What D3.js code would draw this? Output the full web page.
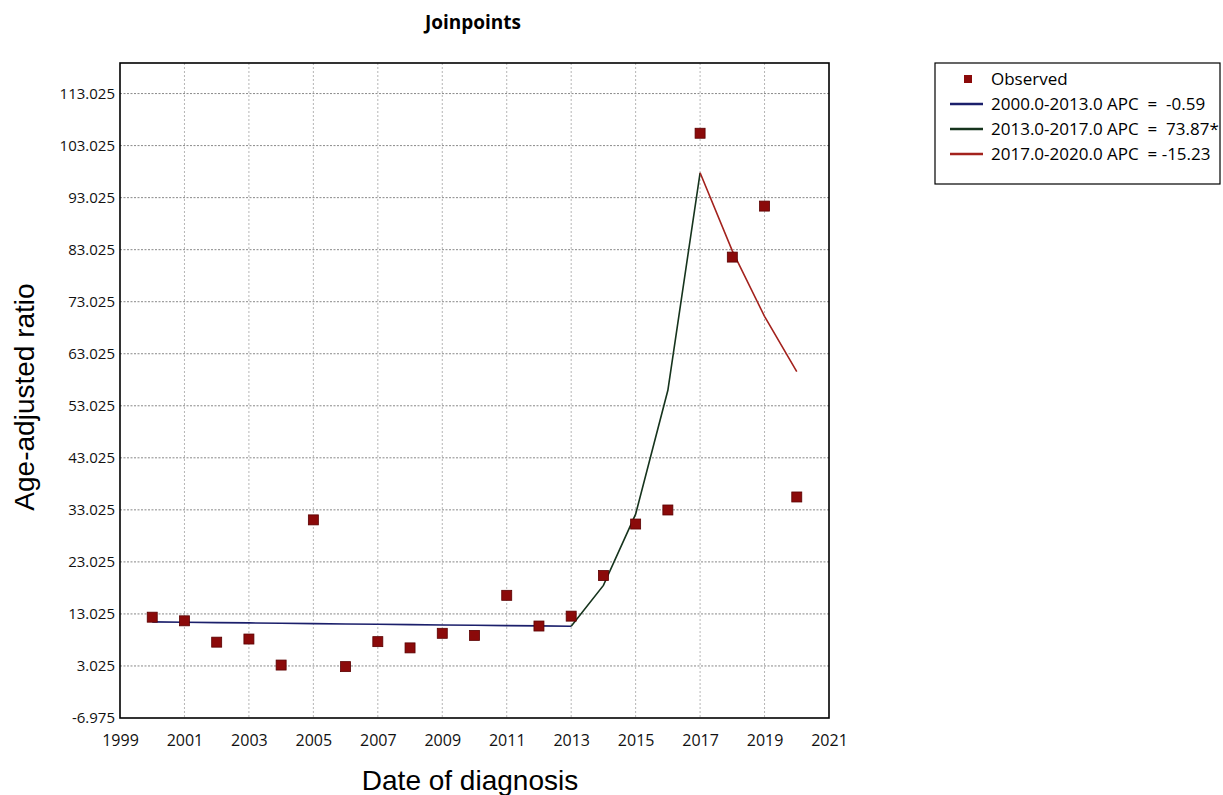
<!DOCTYPE html>
<html>
<head>
<meta charset="utf-8">
<script src="https://cdn.jsdelivr.net/npm/d3@7"></script>
<style>
  body { margin: 0; background: #fff; }
  svg { display: block; }
</style>
</head>
<body>
<script>
// observed values
const years = [2000, 2001, 2002, 2003, 2004, 2005, 2006, 2007, 2008, 2009, 2010,
  2011, 2012, 2013, 2014, 2015, 2016, 2017, 2018, 2019, 2020];
const observed = [12.4, 11.7, 7.6, 8.2, 3.2, 31.1, 2.9, 7.7, 6.5, 9.3, 8.9,
  16.6, 10.7, 12.6, 20.4, 30.3, 33.0, 105.4, 81.6, 91.4, 35.5];

// fitted joinpoint segments
const seg1Years = [2000, 2001, 2002, 2003, 2004, 2005, 2006, 2007, 2008, 2009, 2010, 2011, 2012, 2013];
const seg1Vals = [11.5, 11.43, 11.36, 11.3, 11.23, 11.17, 11.1, 11.04, 10.97, 10.91, 10.84, 10.78, 10.72, 10.65];
const seg2Years = [2013, 2014, 2015, 2016, 2017];
const seg2Vals = [10.65, 18.5, 32.2, 56.0, 97.8];
const seg3Years = [2017, 2018, 2019, 2020];
const seg3Vals = [97.8, 82.8, 70.2, 59.6];

const legendLabels = ['Observed', '2000.0-2013.0 APC  =  -0.59', '2013.0-2017.0 APC  =  73.87*', '2017.0-2020.0 APC  = -15.23'];
const xTicks = [1999, 2001, 2003, 2005, 2007, 2009, 2011, 2013, 2015, 2017, 2019, 2021];
const yTicks = [-6.975, 3.025, 13.025, 23.025, 33.025, 43.025, 53.025, 63.025, 73.025, 83.025, 93.025, 103.025, 113.025];

const W = 1223, H = 795;
const margin = { top: 63, left: 120, right: 394, bottom: 77 };
const width = W - margin.left - margin.right;
const height = H - margin.top - margin.bottom;

const colors = { obs: '#8b0a0a', s1: '#1b1f6b', s2: '#16341d', s3: '#a3221d' };
const uiFont = '"Open Sans", "DejaVu Sans", sans-serif';
const titleFont = '"Liberation Sans", Arial, sans-serif';

const svg = d3.select('body').append('svg')
  .attr('width', W)
  .attr('height', H);

const x = d3.scaleLinear().domain([1999, 2021]).range([0, width]);
const y = d3.scaleLinear().domain([-6.975, 118.9]).range([height, 0]);

const g = svg.append('g')
  .attr('transform', 'translate(' + margin.left + ',' + margin.top + ')');

// grid
g.append('g').selectAll('line')
  .data(xTicks.slice(1, -1))
  .join('line')
  .attr('x1', d => x(d)).attr('x2', d => x(d))
  .attr('y1', 0).attr('y2', height)
  .attr('stroke', '#b5b5b5')
  .attr('stroke-dasharray', '2,2');

g.append('g').selectAll('line')
  .data(yTicks.slice(1))
  .join('line')
  .attr('x1', 0).attr('x2', width)
  .attr('y1', d => y(d)).attr('y2', d => y(d))
  .attr('stroke', '#888')
  .attr('stroke-dasharray', '2,1.5');

// axes
const xAxis = g.append('g')
  .attr('transform', 'translate(0,' + height + ')')
  .call(d3.axisBottom(x).tickValues(xTicks).tickFormat(d3.format('d')).tickSize(0).tickPadding(17));
const yAxis = g.append('g')
  .call(d3.axisLeft(y).tickValues(yTicks).tickFormat(d => d.toFixed(3)).tickSize(0).tickPadding(5));
xAxis.selectAll('text').attr('font-size', 16);
yAxis.selectAll('text').attr('font-size', 15);
[xAxis, yAxis].forEach(a => {
  a.select('.domain').remove();
  a.selectAll('text')
    .attr('font-family', uiFont)
    .attr('fill', '#111');
});

g.append('rect')
  .attr('width', width).attr('height', height)
  .attr('fill', 'none').attr('stroke', '#000').attr('stroke-width', 1.6);

// fitted lines
const line = d3.line().x(d => x(d[0])).y(d => y(d[1]));
[[seg1Years, seg1Vals, colors.s1], [seg2Years, seg2Vals, colors.s2], [seg3Years, seg3Vals, colors.s3]].forEach(s => {
  g.append('path')
    .datum(d3.zip(s[0], s[1]))
    .attr('d', line)
    .attr('fill', 'none')
    .attr('stroke', s[2])
    .attr('stroke-width', 1.6);
});

// observed points
g.append('g').selectAll('rect')
  .data(d3.zip(years, observed))
  .join('rect')
  .attr('x', d => x(d[0]) - 5)
  .attr('y', d => y(d[1]) - 5)
  .attr('width', 10).attr('height', 10)
  .attr('fill', colors.obs)
  .attr('stroke', '#5a0000')
  .attr('stroke-width', 0.8);

// titles
svg.append('text')
  .attr('x', 473).attr('y', 29)
  .attr('text-anchor', 'middle')
  .attr('font-family', uiFont)
  .attr('font-weight', 'bold')
  .attr('font-size', 19)
  .text('Joinpoints');

svg.append('text')
  .attr('x', 470).attr('y', 790)
  .attr('text-anchor', 'middle')
  .attr('font-family', titleFont)
  .attr('font-size', 28)
  .text('Date of diagnosis');

svg.append('text')
  .attr('transform', 'translate(34,397) rotate(-90)')
  .attr('text-anchor', 'middle')
  .attr('font-family', titleFont)
  .attr('font-size', 28)
  .text('Age-adjusted ratio');

// legend
const lg = svg.append('g').attr('transform', 'translate(935,63)');
lg.append('rect')
  .attr('width', 285).attr('height', 121)
  .attr('fill', '#fff').attr('stroke', '#000').attr('stroke-width', 1.2);
const legendColors = [colors.obs, colors.s1, colors.s2, colors.s3];
legendLabels.forEach((lab, i) => {
  const cy = 16 + i * 25;
  if (i === 0) {
    lg.append('rect').attr('x', 29).attr('y', cy - 4).attr('width', 8).attr('height', 8)
      .attr('fill', legendColors[i]);
  } else {
    lg.append('line').attr('x1', 15).attr('x2', 48).attr('y1', cy).attr('y2', cy)
      .attr('stroke', legendColors[i]).attr('stroke-width', 2.4);
  }
  lg.append('text')
    .attr('x', 56).attr('y', cy + 6)
    .attr('font-family', uiFont)
    .attr('font-size', 17)
    .style('white-space', 'pre')
    .text(lab);
});
</script>
</body>
</html>
